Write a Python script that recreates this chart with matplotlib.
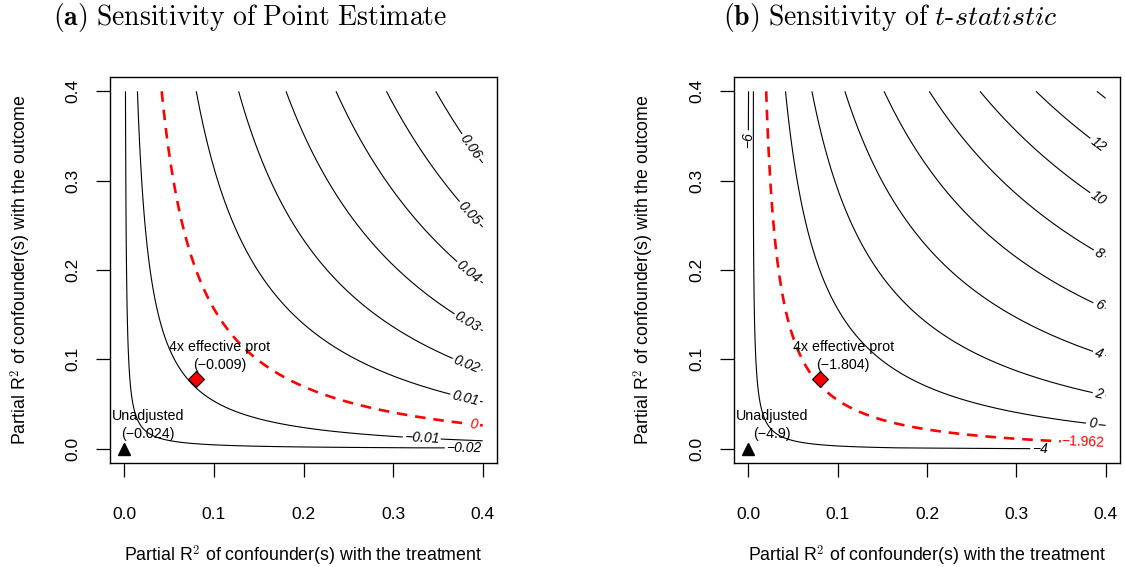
import numpy as np
import matplotlib
matplotlib.use("Agg")
import matplotlib.pyplot as plt

plt.rcParams['font.family'] = ['Liberation Sans', 'DejaVu Sans']
plt.rcParams['mathtext.fontset'] = 'cm'

# Regression output for the treatment coefficient
estimate = -0.024
t_value = -4.9
dof = 1380
t_crit = -1.962

# Benchmark bound (4x effective prot) and its adjusted values
bound_label = "4x effective prot"
bound_r2dz = 0.080
bound_r2yz = 0.078
bound_est = -0.009
bound_t = -1.804

# Contour levels for each panel
est_levels = [-0.02, -0.01, 0.01, 0.02, 0.03, 0.04, 0.05, 0.06]
t_levels = [-6, -4, 0, 2, 4, 6, 8, 10, 12, 14]
t_labelled = [-6, -4, 0, 2, 4, 6, 8, 10, 12]

se = estimate / t_value
lim = 0.4

grid = np.linspace(0, lim, 401)
r2dz, r2yz = np.meshgrid(grid, grid)

# omitted variable bias and adjusted estimates (estimate is negative, so bias pulls it up)
bias = se * np.sqrt(r2yz * r2dz / (1 - r2dz)) * np.sqrt(dof)
adj_est = estimate + bias
adj_se = se * np.sqrt((1 - r2yz) / (1 - r2dz)) * np.sqrt(dof / (dof - 1))
adj_t = adj_est / adj_se


def fmt_num(v):
    s = "%g" % v
    return s.replace("-", "\u2212")


def setup_axes(ax):
    pad = 0.04 * lim
    ax.set_xlim(-pad, lim + pad)
    ax.set_ylim(-pad, lim + pad)
    ticks = [0.0, 0.1, 0.2, 0.3, 0.4]
    ax.set_xticks(ticks)
    ax.set_yticks(ticks)
    ax.set_xticklabels(["%.1f" % t for t in ticks])
    ax.set_yticklabels(["%.1f" % t for t in ticks])
    ax.tick_params(axis='both', length=10, width=0.9, labelsize=12.5)
    ax.tick_params(axis='x', pad=22)
    ax.tick_params(axis='y', pad=11)
    for lbl in ax.get_yticklabels():
        lbl.set_rotation(90)
        lbl.set_va('center')
    for s in ax.spines.values():
        s.set_linewidth(1.0)
    ax.set_xlabel("Partial R$^2$ of confounder(s) with the treatment", fontsize=12.8, labelpad=15)
    ax.set_ylabel("Partial R$^2$ of confounder(s) with the outcome", fontsize=12.8, labelpad=24)


def add_points(ax, unadj_txt, bound_txt):
    ax.plot(0, 0, marker='^', color='black', ms=8.5, linestyle='none', clip_on=False)
    ax.annotate("Unadjusted\n(" + unadj_txt + ")", (0, 0), xytext=(17, 17),
                textcoords='offset points', ha='center', va='center', fontsize=10.3,
                linespacing=1.35)
    ax.plot(bound_r2dz, bound_r2yz, marker='D', color='red', markeredgecolor='black',
            markeredgewidth=0.8, ms=8, linestyle='none')
    ax.annotate(bound_label + "\n(" + bound_txt + ")", (bound_r2dz, bound_r2yz), xytext=(17, 16.5),
                textcoords='offset points', ha='center', va='center', fontsize=10.3,
                linespacing=1.35)


fig = plt.figure(figsize=(11.25, 5.67), dpi=100)
ax1 = fig.add_axes([0.0978, 0.1834, 0.344, 0.6808])
ax2 = fig.add_axes([0.6524, 0.1834, 0.3431, 0.6808])

lbl_size = 10

# (a) point estimate
cs = ax1.contour(r2dz, r2yz, adj_est, levels=est_levels, colors='black', linewidths=0.8,
                 negative_linestyles='solid')
pos_a = [(0.379, 0.001), (0.332, 0.011), (0.380, 0.055), (0.383, 0.096),
         (0.383, 0.142), (0.385, 0.199), (0.388, 0.266), (0.385, 0.337)]
txt = ax1.clabel(cs, fmt={v: fmt_num(v) for v in est_levels}, fontsize=lbl_size,
                 inline_spacing=3, manual=pos_a)
for t in txt:
    t.set_fontstyle('italic')
cs0 = ax1.contour(r2dz, r2yz, adj_est, levels=[0], colors='red', linewidths=1.9,
                  linestyles=[(0, (4, 3))])
txt = ax1.clabel(cs0, fmt={0: "0"}, fontsize=lbl_size, inline_spacing=3, manual=[(0.390, 0.027)])
for t in txt:
    t.set_fontstyle('italic')
setup_axes(ax1)
add_points(ax1, fmt_num(estimate), fmt_num(bound_est))

# (b) t-statistic
cs = ax2.contour(r2dz, r2yz, adj_t, levels=t_levels, colors='black', linewidths=0.8,
                 negative_linestyles='solid')
pos_b = [(0.001, 0.345), (0.327, 0.0), (0.385, 0.027), (0.392, 0.059), (0.392, 0.105),
         (0.392, 0.159), (0.392, 0.217), (0.391, 0.279), (0.392, 0.341)]
txt = ax2.clabel(cs, levels=t_labelled, fmt={v: fmt_num(v) for v in t_levels}, fontsize=lbl_size,
                 inline_spacing=3, manual=pos_b)
for t in txt:
    t.set_fontstyle('italic')
cs0 = ax2.contour(r2dz, r2yz, adj_t, levels=[t_crit], colors='red', linewidths=1.9,
                  linestyles=[(0, (4, 3))])
ax2.clabel(cs0, fmt={t_crit: fmt_num(t_crit)}, fontsize=lbl_size, inline_spacing=3,
           manual=[(0.375, 0.007)])
setup_axes(ax2)
add_points(ax2, fmt_num(t_value), fmt_num(bound_t))

# panel titles
fig.text(250 / 1125, 1 - 25 / 567, r"$\mathbf{(a)}\ \mathrm{Sensitivity\ of\ Point\ Estimate}$",
         ha='center', va='baseline', fontsize=20)
fig.text(890 / 1125, 1 - 25 / 567,
         r"$\mathbf{(b)}\ \mathrm{Sensitivity\ of}\ \mathit{t}\text{-}\mathit{statistic}$",
         ha='center', va='baseline', fontsize=20)

fig.savefig("out.png", dpi=100)
